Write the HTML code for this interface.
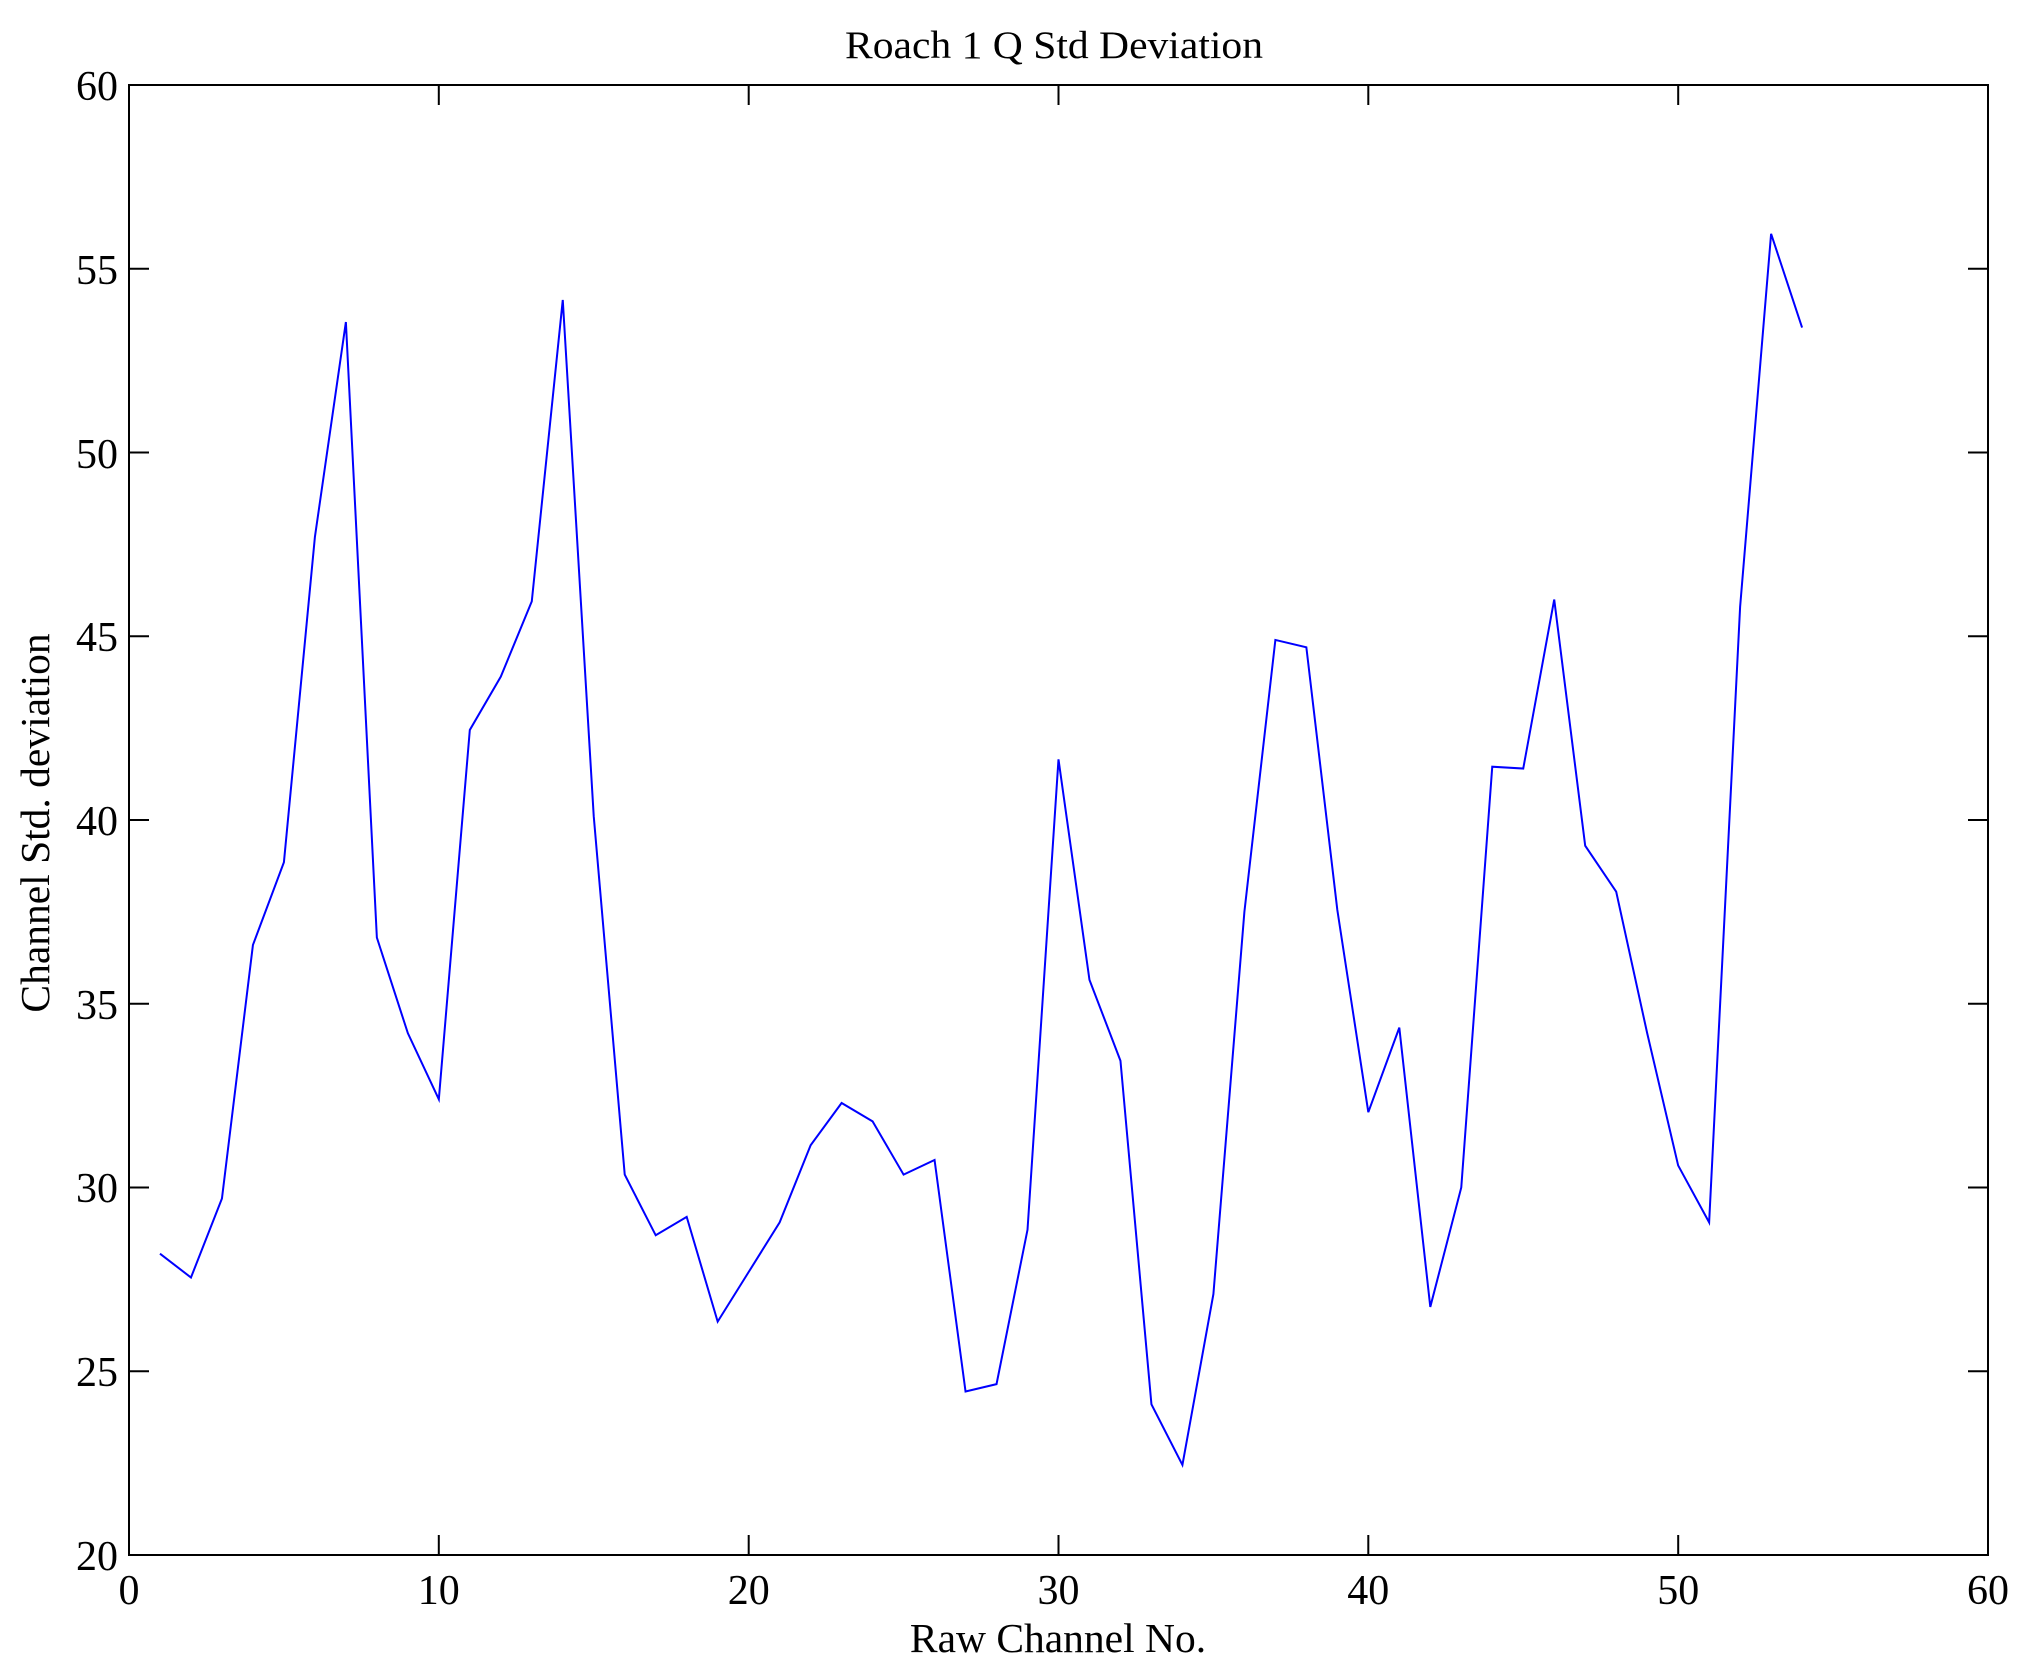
<!DOCTYPE html>
<html><head><meta charset="utf-8"><style>
html,body{margin:0;padding:0;background:#fff;}
svg{display:block;}
text{font-family:"Liberation Serif",serif;fill:#000;}
</style></head><body>
<svg width="2025" height="1671" viewBox="0 0 2025 1671" xmlns="http://www.w3.org/2000/svg">
<rect width="2025" height="1671" fill="#fff"/>
<text x="1054" y="58" font-size="39" text-anchor="middle" textLength="418" lengthAdjust="spacingAndGlyphs">Roach 1 Q Std Deviation</text>
<g stroke="#000" stroke-width="2" fill="none">
<rect x="129" y="85" width="1859" height="1470"/>
<path d="M438.8 1555v-20M438.8 85v20M748.7 1555v-20M748.7 85v20M1058.5 1555v-20M1058.5 85v20M1368.3 1555v-20M1368.3 85v20M1678.2 1555v-20M1678.2 85v20"/>
<path d="M129 1371.25h20M1988 1371.25h-20M129 1187.5h20M1988 1187.5h-20M129 1003.75h20M1988 1003.75h-20M129 820h20M1988 820h-20M129 636.25h20M1988 636.25h-20M129 452.5h20M1988 452.5h-20M129 268.75h20M1988 268.75h-20"/>
</g>
<g font-size="42" text-anchor="middle">
<text x="129" y="1604">0</text><text x="438.8" y="1604">10</text><text x="748.7" y="1604">20</text><text x="1058.5" y="1604">30</text><text x="1368.3" y="1604">40</text><text x="1678.2" y="1604">50</text><text x="1988" y="1604">60</text>
</g>
<g font-size="42" text-anchor="end">
<text x="118" y="1570">20</text><text x="118" y="1386">25</text><text x="118" y="1202">30</text><text x="118" y="1019">35</text><text x="118" y="835">40</text><text x="118" y="651">45</text><text x="118" y="468">50</text><text x="118" y="284">55</text><text x="118" y="100">60</text>
</g>
<text x="1058" y="1652" font-size="41.5" text-anchor="middle">Raw Channel No.</text>
<text transform="translate(49,823) rotate(-90)" font-size="41.5" text-anchor="middle">Channel Std. deviation</text>
<g transform="translate(129,2290) scale(30.983,-36.75)">
<polyline vector-effect="non-scaling-stroke" fill="none" stroke="#0000ff" stroke-width="2" points="1,28.2 2,27.55 3,29.7 4,36.6 5,38.85 6,47.7 7,53.55 8,36.8 9,34.2 10,32.4 11,42.45 12,43.9 13,45.95 14,54.15 15,40.1 16,30.35 17,28.7 18,29.2 19,26.35 20,27.7 21,29.05 22,31.15 23,32.3 24,31.8 25,30.35 26,30.75 27,24.45 28,24.65 29,28.85 30,41.65 31,35.65 32,33.45 33,24.1 34,22.45 35,27.1 36,37.5 37,44.9 38,44.7 39,37.55 40,32.05 41,34.35 42,26.75 43,30.0 44,41.45 45,41.4 46,46.0 47,39.3 48,38.05 49,34.2 50,30.6 51,29.05 52,45.8 53,55.95 54,53.4"/>
</g>
</svg>
</body></html>
